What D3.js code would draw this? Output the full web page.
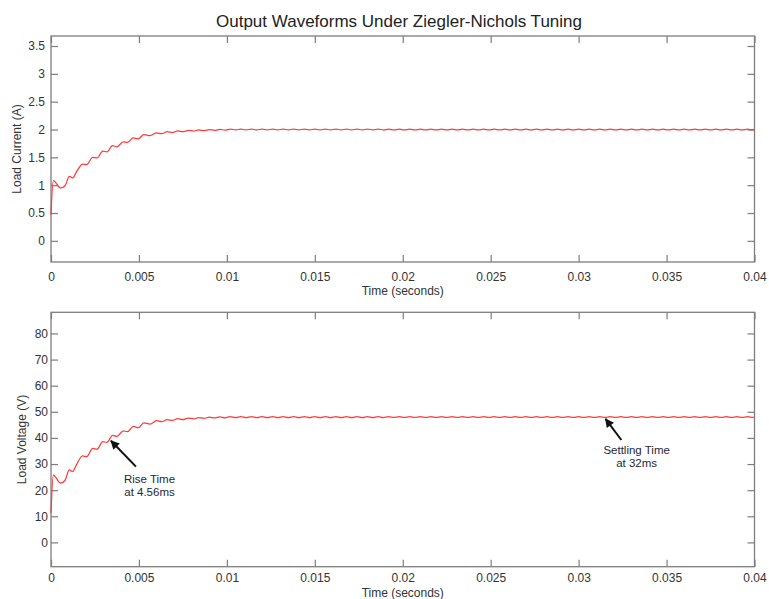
<!DOCTYPE html>
<html>
<head>
<meta charset="utf-8">
<script src="https://cdn.jsdelivr.net/npm/d3@7"></script>
<style>
  html, body { margin: 0; padding: 0; background: #fff; }
  svg { display: block; font-family: "Liberation Sans", Arial, sans-serif; }
</style>
</head>
<body>
<svg id="chart" width="769" height="599"></svg>
<script>
// ---- data ----
const timeSec = [
  0, 0.00013, 0.00055, 0.0008, 0.00104, 0.00123, 0.00145, 0.0018, 0.00203, 0.00237,
  0.00263, 0.00294, 0.00318, 0.0035, 0.00375, 0.00411, 0.00435, 0.00468, 0.00496, 0.00528,
  0.00563, 0.006, 0.0063, 0.0066, 0.0069, 0.0072, 0.0075, 0.0078, 0.0081, 0.0084,
  0.0087, 0.009, 0.0093, 0.0096, 0.0099,
  0.0102, 0.0105, 0.0108, 0.0111, 0.0114, 0.0117, 0.012, 0.0123, 0.0126, 0.0129,
  0.0132, 0.0135, 0.0138, 0.0141, 0.0144, 0.0147, 0.015, 0.0153, 0.0156, 0.0159,
  0.0162, 0.0165, 0.0168, 0.0171, 0.0174, 0.0177, 0.018, 0.0183, 0.0186, 0.0189,
  0.0192, 0.0195, 0.0198, 0.0201, 0.0204, 0.0207, 0.021, 0.0213, 0.0216, 0.0219,
  0.0222, 0.0225, 0.0228, 0.0231, 0.0234, 0.0237, 0.024, 0.0243, 0.0246, 0.0249,
  0.0252, 0.0255, 0.0258, 0.0261, 0.0264, 0.0267, 0.027, 0.0273, 0.0276, 0.0279,
  0.0282, 0.0285, 0.0288, 0.0291, 0.0294, 0.0297, 0.03, 0.0303, 0.0306, 0.0309,
  0.0312, 0.0315, 0.0318, 0.0321, 0.0324, 0.0327, 0.033, 0.0333, 0.0336, 0.0339,
  0.0342, 0.0345, 0.0348, 0.0351, 0.0354, 0.0357, 0.036, 0.0363, 0.0366, 0.0369,
  0.0372, 0.0375, 0.0378, 0.0381, 0.0384, 0.0387, 0.039, 0.0393, 0.0396, 0.0399,
  0.04
]

const loadCurrent = [
  0.47, 1.08, 0.95, 0.99, 1.16, 1.13, 1.24, 1.38, 1.37, 1.50,
  1.49, 1.61, 1.60, 1.71, 1.69, 1.78, 1.77, 1.85, 1.83, 1.91,
  1.89, 1.94, 1.925, 1.96, 1.945, 1.975, 1.96, 1.985, 1.972, 1.993,
  1.98, 1.999, 1.985, 2.004, 1.988,
  2.008, 1.992, 2.008, 1.992, 2.008, 1.992, 2.008, 1.992, 2.008, 1.992,
  2.008, 1.992, 2.008, 1.992, 2.008, 1.992, 2.008, 1.992, 2.008, 1.992,
  2.008, 1.992, 2.008, 1.992, 2.008, 1.992, 2.008, 1.992, 2.008, 1.992,
  2.007, 1.993, 2.007, 1.993, 2.007, 1.993, 2.007, 1.993, 2.007, 1.993,
  2.007, 1.993, 2.007, 1.993, 2.007, 1.993, 2.007, 1.993, 2.007, 1.993,
  2.007, 1.993, 2.007, 1.993, 2.007, 1.993, 2.007, 1.993, 2.007, 1.993,
  2.006, 1.994, 2.006, 1.994, 2.006, 1.994, 2.006, 1.994, 2.006, 1.994,
  2.006, 1.994, 2.006, 1.994, 2.006, 1.994, 2.006, 1.994, 2.006, 1.994,
  2.006, 1.994, 2.006, 1.994, 2.006, 1.994, 2.006, 1.994, 2.006, 1.994,
  2.006, 1.994, 2.006, 1.994, 2.006, 1.994, 2.006, 1.994, 2.006, 1.994,
  2.001
]

const loadVoltage = [
  11.2, 25.8, 22.7, 23.8, 27.8, 27.1, 29.8, 33.1, 32.8, 36.0,
  35.7, 38.6, 38.3, 41.0, 40.6, 42.7, 42.4, 44.4, 43.9, 45.8,
  45.3, 46.6, 46.2, 47.0, 46.7, 47.4, 47.0, 47.6, 47.3, 47.8,
  47.5, 47.97, 47.65, 48.1, 47.7,
  48.19, 47.81, 48.19, 47.81, 48.19, 47.81, 48.19, 47.81, 48.19, 47.81,
  48.19, 47.81, 48.19, 47.81, 48.19, 47.81, 48.19, 47.81, 48.19, 47.81,
  48.19, 47.81, 48.19, 47.81, 48.19, 47.81, 48.19, 47.81, 48.19, 47.81,
  48.17, 47.83, 48.17, 47.83, 48.17, 47.83, 48.17, 47.83, 48.17, 47.83,
  48.17, 47.83, 48.17, 47.83, 48.17, 47.83, 48.17, 47.83, 48.17, 47.83,
  48.17, 47.83, 48.17, 47.83, 48.17, 47.83, 48.17, 47.83, 48.17, 47.83,
  48.15, 47.85, 48.15, 47.85, 48.15, 47.85, 48.15, 47.85, 48.15, 47.85,
  48.15, 47.85, 48.15, 47.85, 48.15, 47.85, 48.15, 47.85, 48.15, 47.85,
  48.15, 47.85, 48.15, 47.85, 48.15, 47.85, 48.15, 47.85, 48.15, 47.85,
  48.15, 47.85, 48.15, 47.85, 48.15, 47.85, 48.15, 47.85, 48.15, 47.85,
  48.02
]

const xTicks = [0, 0.005, 0.01, 0.015, 0.02, 0.025, 0.03, 0.035, 0.04]
const xTickLabels = ['0', '0.005', '0.01', '0.015', '0.02', '0.025', '0.03', '0.035', '0.04']
const currentTicks = [0, 0.5, 1, 1.5, 2, 2.5, 3, 3.5]
const currentTickLabels = ['0', '0.5', '1', '1.5', '2', '2.5', '3', '3.5']
const voltageTicks = [0, 10, 20, 30, 40, 50, 60, 70, 80]

// annotation arrows (data coords): tip, tail, text anchor
const voltageNotes = [
  { tip: [0.00341, 38.9], tail: [0.00483, 29.0], at: [0.0056, 22.7], lines: ['Rise Time', 'at 4.56ms'] },
  { tip: [0.03153, 47.3], tail: [0.03243, 39.2], at: [0.0333, 33.8], lines: ['Settling Time', 'at 32ms'] },
]

// ---- layout ----
const width = 769
const height = 599
const plotLeft = 51
const plotRight = 754.5
const axisColor = '#7d7d7d'
const textColor = '#333'
const lineColor = '#ff3a3a'

const svg = d3.select('#chart')

svg.append('rect')
  .attr('width', width)
  .attr('height', height)
  .attr('fill', '#fff')

svg.append('text')
  .attr('x', 399)
  .attr('y', 27)
  .attr('text-anchor', 'middle')
  .attr('font-size', 17)
  .attr('fill', '#222')
  .text('Output Waveforms Under Ziegler-Nichols Tuning')

const x = d3.scaleLinear().domain([0, 0.04]).range([plotLeft, plotRight])

function drawPanel(opts) {
  const { top, bottom, domain, values, ticks, tickLabels, yLabel, yLabelX, xPad, yPad, xLabelY } = opts

  const y = d3.scaleLinear().domain(domain).range([bottom, top])
  const g = svg.append('g')

  const axisB = d3.axisBottom(x)
    .tickValues(xTicks)
    .tickFormat((d, i) => xTickLabels[i])
    .tickSizeInner(-7)
    .tickSizeOuter(0)
    .tickPadding(xPad)

  const axisT = d3.axisTop(x)
    .tickValues(xTicks)
    .tickFormat('')
    .tickSizeInner(-7)
    .tickSizeOuter(0)

  const axisL = d3.axisLeft(y)
    .tickValues(ticks)
    .tickFormat((d, i) => tickLabels[i])
    .tickSizeInner(-7)
    .tickSizeOuter(0)
    .tickPadding(yPad)

  const axisR = d3.axisRight(y)
    .tickValues(ticks)
    .tickFormat('')
    .tickSizeInner(-7)
    .tickSizeOuter(0)

  g.append('g').attr('transform', `translate(0,${bottom})`).call(axisB)
  g.append('g').attr('transform', `translate(0,${top})`).call(axisT)
  g.append('g').attr('transform', `translate(${plotLeft},0)`).call(axisL)
  g.append('g').attr('transform', `translate(${plotRight},0)`).call(axisR)

  g.selectAll('.domain').remove()
  g.selectAll('.tick line').attr('stroke', axisColor).attr('stroke-width', 1.2)
  g.selectAll('.tick text')
    .attr('font-family', '"Liberation Sans", Arial, sans-serif')
    .attr('font-size', 12)
    .attr('fill', textColor)

  // box
  g.append('rect')
    .attr('x', plotLeft)
    .attr('y', top)
    .attr('width', plotRight - plotLeft)
    .attr('height', bottom - top)
    .attr('fill', 'none')
    .attr('stroke', axisColor)
    .attr('stroke-width', 1.3)

  const points = timeSec.map((t, i) => [t, values[i]])

  g.append('path')
    .datum(points)
    .attr('fill', 'none')
    .attr('stroke', lineColor)
    .attr('stroke-width', 1.25)
    .attr('stroke-linejoin', 'round')
    .attr('d', d3.line()
      .x((d) => x(d[0]))
      .y((d) => y(d[1]))
      .curve(d3.curveMonotoneX))

  g.append('text')
    .attr('transform', `translate(${yLabelX},${(top + bottom) / 2}) rotate(-90)`)
    .attr('text-anchor', 'middle')
    .attr('font-size', 12)
    .attr('fill', textColor)
    .text(yLabel)

  g.append('text')
    .attr('x', (plotLeft + plotRight) / 2)
    .attr('y', xLabelY)
    .attr('text-anchor', 'middle')
    .attr('font-size', 12)
    .attr('fill', textColor)
    .text('Time (seconds)')

  return { g, y }
}

drawPanel({
  top: 36,
  bottom: 262,
  domain: [-0.38, 3.68],
  values: loadCurrent,
  ticks: currentTicks,
  tickLabels: currentTickLabels,
  yLabel: 'Load Current (A)',
  yLabelX: 21,
  xPad: 10,
  yPad: 6,
  xLabelY: 295,
})

const volt = drawPanel({
  top: 312.3,
  bottom: 566.7,
  domain: [-9.3, 88.1],
  values: loadVoltage,
  ticks: voltageTicks,
  tickLabels: voltageTicks.map(String),
  yLabel: 'Load Voltage (V)',
  yLabelX: 25.5,
  xPad: 7,
  yPad: 3,
  xLabelY: 596.5,
})

// arrowhead
svg.append('defs')
  .append('marker')
  .attr('id', 'arrowhead')
  .attr('markerUnits', 'userSpaceOnUse')
  .attr('viewBox', '0 0 10 10')
  .attr('refX', 9)
  .attr('refY', 5)
  .attr('markerWidth', 10)
  .attr('markerHeight', 9)
  .attr('orient', 'auto')
  .append('path')
  .attr('d', 'M0,0 L10,5 L0,10 Z')
  .attr('fill', '#111')

const notes = volt.g.append('g').attr('class', 'notes')

notes.selectAll('line')
  .data(voltageNotes)
  .join('line')
  .attr('x1', (d) => x(d.tail[0]))
  .attr('y1', (d) => volt.y(d.tail[1]))
  .attr('x2', (d) => x(d.tip[0]))
  .attr('y2', (d) => volt.y(d.tip[1]))
  .attr('stroke', '#111')
  .attr('stroke-width', 2)
  .attr('marker-end', 'url(#arrowhead)')

notes.selectAll('text')
  .data(voltageNotes)
  .join('text')
  .attr('x', (d) => x(d.at[0]))
  .attr('y', (d) => volt.y(d.at[1]))
  .attr('text-anchor', 'middle')
  .attr('font-size', 11.5)
  .attr('fill', '#262636')
  .selectAll('tspan')
  .data((d) => d.lines.map((l) => ({ l, xPos: x(d.at[0]) })))
  .join('tspan')
  .attr('x', (d) => d.xPos)
  .attr('dy', (d, i) => (i === 0 ? 0 : 12.5))
  .text((d) => d.l)
</script>
</body>
</html>
